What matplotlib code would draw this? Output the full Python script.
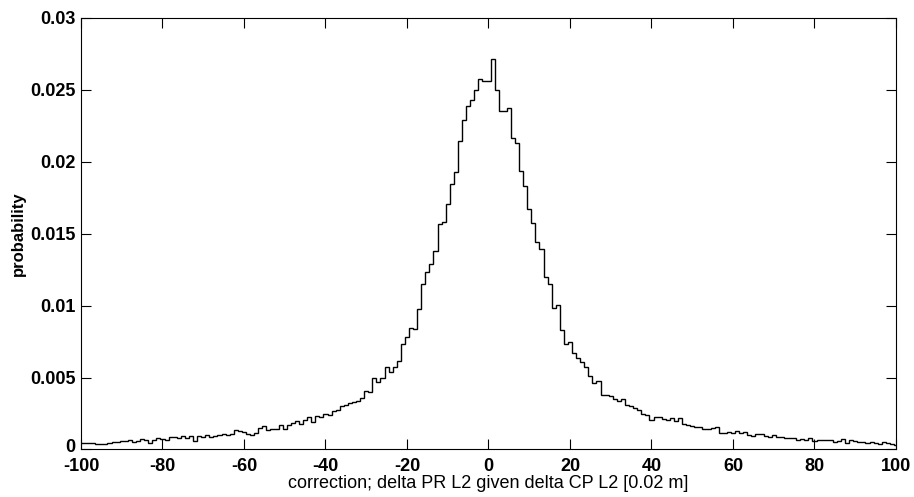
import matplotlib
matplotlib.use('Agg')
import matplotlib.pyplot as plt
import matplotlib.transforms as mtransforms
import numpy as np

# bin centres -100..100 (unit bins), probabilities
centers = np.arange(-100, 101)

left_tail = [  # -100 .. -74
    0.00047, 0.00045, 0.00047, 0.00043, 0.00040, 0.00036, 0.00036, 0.00043, 0.00055, 0.00052,
    0.00059, 0.00059, 0.00066, 0.00055, 0.00062, 0.00070, 0.00066, 0.00047, 0.00066, 0.00078,
    0.00074, 0.00066, 0.00084, 0.00084, 0.00080, 0.00093, 0.00078,
]
left_mid = [  # -73 .. -32
    0.00094, 0.00058, 0.00094, 0.00085, 0.00098, 0.00090, 0.00094, 0.00101, 0.00107, 0.00098,
    0.00107, 0.00135, 0.00131, 0.00124, 0.00107, 0.00101, 0.00112, 0.00147, 0.00163, 0.00135,
    0.00140, 0.00140, 0.00170, 0.00144, 0.00170, 0.00182, 0.00199, 0.00177, 0.00205, 0.00224,
    0.00193, 0.00232, 0.00228, 0.00247, 0.00240, 0.00267, 0.00274, 0.00302, 0.00310, 0.00320,
    0.00330, 0.00340,
]
core = [  # -31 .. 31
    0.00360, 0.00406, 0.00402, 0.00494, 0.00471, 0.00494, 0.00574, 0.00540, 0.00574, 0.00617,
    0.00730, 0.00779, 0.00846, 0.00841, 0.00980, 0.01154, 0.01235, 0.01293, 0.01381, 0.01571,
    0.01582, 0.01705, 0.01844, 0.01929, 0.02144, 0.02288, 0.02385, 0.02427, 0.02501, 0.02573,
    0.02561, 0.02561, 0.02712, 0.02501, 0.02353, 0.02353, 0.02374, 0.02165, 0.02130, 0.01934,
    0.01830, 0.01675, 0.01575, 0.01443, 0.01392, 0.01196, 0.01154, 0.00987, 0.01006, 0.00830,
    0.00733, 0.00749, 0.00668, 0.00633, 0.00610, 0.00575, 0.00510, 0.00460, 0.00476, 0.00378,
    0.00378, 0.00372, 0.00350,
]
right_mid = [  # 32 .. 69
    0.00340, 0.00350, 0.00309, 0.00302, 0.00286, 0.00274, 0.00250, 0.00240, 0.00205, 0.00226,
    0.00224, 0.00210, 0.00205, 0.00216, 0.00201, 0.00216, 0.00177, 0.00170, 0.00163, 0.00159,
    0.00154, 0.00140, 0.00144, 0.00147, 0.00159, 0.00117, 0.00117, 0.00121, 0.00112, 0.00131,
    0.00112, 0.00124, 0.00101, 0.00094, 0.00105, 0.00105, 0.00094, 0.00089,
]
right_tail = [  # 70 .. 100
    0.00098, 0.00090, 0.00088, 0.00080, 0.00078, 0.00080, 0.00066, 0.00070, 0.00066, 0.00078,
    0.00060, 0.00066, 0.00064, 0.00066, 0.00066, 0.00055, 0.00060, 0.00070, 0.00043, 0.00066,
    0.00060, 0.00055, 0.00050, 0.00047, 0.00055, 0.00045, 0.00038, 0.00050, 0.00045, 0.00038,
    0.00030,
]
prob = np.array(left_tail + left_mid + core + right_mid + right_tail)
edges = np.append(centers - 0.5, centers[-1] + 0.5)

plt.rcParams['font.family'] = ['Liberation Sans', 'DejaVu Sans']
plt.rcParams['axes.unicode_minus'] = False

fig = plt.figure(figsize=(9.14, 4.97), dpi=100)
ax = fig.add_axes([0.0886, 0.0956, 0.8917, 0.8682])
ax.stairs(prob, edges, color='black', linewidth=1.0)

ax.set_xlim(-100, 100)
ax.set_ylim(0, 0.03)
ax.set_xticks(np.arange(-100, 101, 20))
ax.set_yticks([0, 0.005, 0.01, 0.015, 0.02, 0.025, 0.03])
ax.set_yticklabels(['0', '0.005', '0.01', '0.015', '0.02', '0.025', '0.03'])
ax.tick_params(direction='in', length=7, width=0.8, top=True, right=True,
               labelsize=13)
ax.tick_params(axis='x', pad=6)
ax.tick_params(axis='y', pad=4)
for lab in ax.get_xticklabels() + ax.get_yticklabels():
    lab.set_fontweight('bold')
for s in ax.spines.values():
    s.set_linewidth(0.8)

# lift the "0" label a touch so it clears the "-100" below it
zero_lab = ax.get_yticklabels()[0]
zero_lab.set_transform(zero_lab.get_transform() +
                       mtransforms.ScaledTranslation(0, 4 / 100, fig.dpi_scale_trans))

ax.set_xlabel('correction; delta PR L2 given delta CP L2 [0.02 m]', fontsize=13, labelpad=0)
ax.set_ylabel('probability', fontsize=12, fontweight='bold', labelpad=3)

fig.savefig('out.png', dpi=100)
